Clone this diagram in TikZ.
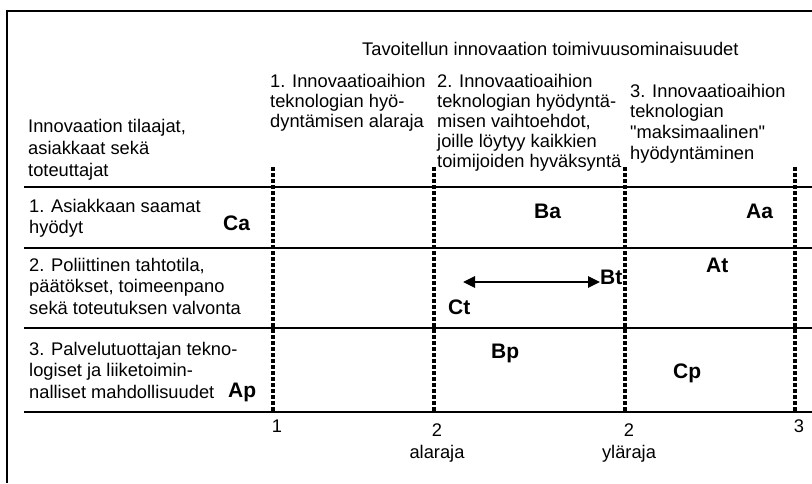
\documentclass[tikz,border=0pt]{standalone}
\usepackage{fontspec}
\setmainfont{Liberation Sans}[Ligatures=TeXOff]
\usetikzlibrary{positioning, arrows.meta}

\tikzset{
  txt/.style={anchor=north west, inner sep=0pt, align=left,
    font=\fontsize{18.3}{21.5}\selectfont},
  head/.style={txt, font=\fontsize{18.3}{20}\selectfont},
  lbl/.style={anchor=base west, inner sep=0pt, font=\fontsize{21}{24}\selectfont\bfseries},
  asteikko/.style={anchor=north, inner sep=0pt, align=center,
    font=\fontsize{18.3}{22}\selectfont},
  rowline/.style={line width=2pt},
  rajaviiva/.style={line width=4.5pt, dash pattern=on 3.5pt off 2.5pt},
  vali/.style={line width=2.7pt, {Triangle[length=12pt,width=11pt]}-{Triangle[length=12pt,width=11pt]}}
}

\begin{document}
\begin{tikzpicture}[x=1pt, y=-1pt]
    \useasboundingbox (0,0) rectangle (812,483);
    \draw[line width=2pt] (812,10.5) -| (7,483);

    % rows and limits
    \foreach \y in {187,248,328,412}
        \draw[rowline] (24,\y) -- (812,\y);
    \foreach \x in {273,434,625,795}
        \draw[rajaviiva] (\x,167) -- (\x,412);

    % headings
    \node[txt, font=\fontsize{18.3}{22}\selectfont] (tilaajat) at (28,119)
        {Innovaation tilaajat,\\asiakkaat sekä\\toteuttajat};
    \node[txt] (otsikko) at (362,42) {Tavoitellun innovaation toimivuusominaisuudet};
    \node[head, font=\fontsize{18.3}{19.7}\selectfont] (sarake1) at (270,74.2)
        {1. Innovaatioaihion\\teknologian hyö-\\dyntämisen alaraja};
    \node[head] (sarake2) at (437,74.2)
        {2. Innovaatioaihion\\teknologian hyödyntä-\\misen vaihtoehdot,\\joille löytyy kaikkien\\toimijoiden hyväksyntä};
    \node[head, font=\fontsize{18.3}{20.9}\selectfont] (sarake3) at (630,83.6)
        {3. Innovaatioaihion\\teknologian\\"maksimaalinen"\\hyödyntäminen};

    \node[txt] (rivi1) at (29,198.9) {1. Asiakkaan saamat\\hyödyt};
    \node[txt] (rivi2) at (29,257.9)
        {2. Poliittinen tahtotila,\\päätökset, toimeenpano\\sekä toteutuksen valvonta};
    \node[txt] (rivi3) at (29,341.9)
        {3. Palvelutuottajan tekno-\\logiset ja liiketoimin-\\nalliset mahdollisuudet};

    % actors
    \node[lbl] (Ca) at (223,230) {Ca};
    \node[lbl] (Ba) at (534,218) {Ba};
    \node[lbl] (Aa) at (746,218) {Aa};
    \node[lbl] (At) at (706,272) {At};
    \node[lbl] (Bt) at (600,284) {Bt};
    \node[lbl] (Ct) at (448,314) {Ct};
    \node[lbl] (Bp) at (491,358) {Bp};
    \node[lbl] (Cp) at (673,378) {Cp};
    \node[lbl] (Ap) at (228,397) {Ap};

    \coordinate (vasen) at (463,282);
    \draw[vali] (vasen) -- ([yshift=2pt]Bt.base west);

    % scale below
    \node[asteikko] (raja1) at (277,420) {1};
    \node[asteikko] (ala2) at (437,424) {2\\alaraja};
    \node[asteikko] (yla2) at (629,424) {2\\yläraja};
    \node[asteikko] (raja3) at (799,420) {3};
\end{tikzpicture}
\end{document}
